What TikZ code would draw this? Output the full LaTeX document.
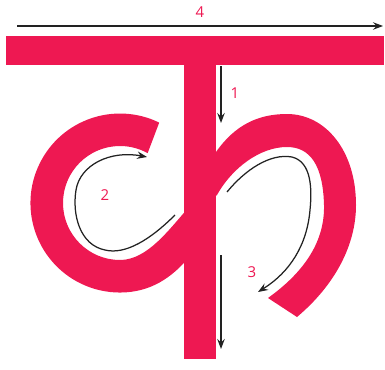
\documentclass[tikz,border=0pt]{standalone}
\usepackage{fontspec}
\setmainfont{Open Sans}
\usetikzlibrary{arrows.meta}
\definecolor{kpink}{HTML}{EE1852}
\definecolor{kline}{HTML}{222222}
\tikzset{
  glyph/.style={fill=kpink, draw=none},
  stroke/.style={draw=kline, line width=1.25pt, -{Stealth[length=10pt,width=7.5pt,inset=3.5pt]}},
  num/.style={text=kpink, font=\fontsize{15}{17}\selectfont, inner sep=0pt}
}
\begin{document}
\begin{tikzpicture}[x=1pt,y=-1pt]
\useasboundingbox (0,0) rectangle (385,369);
% head bar and stem
\fill[kpink] (6,36) rectangle (384,65);
\fill[kpink] (184,64) rectangle (216,359);
% left loop
\path[glyph] (159.2,122.6) arc[start angle=-64, end angle=-270, radius=89.5]
  .. controls (150,292.5) and (172,278) .. (190,256) -- (200,245) -- (200,200) -- (190,206)
  .. controls (170,228) and (148,260) .. (120,260)
  arc[start angle=90, end angle=299, radius=57] -- cycle;
% right hook
\path[glyph] (200,175) -- (216,152) .. controls (235,125) and (258,114) .. (287,114)
  .. controls (325,114) and (356,150) .. (356,205)
  .. controls (356,245) and (335,285) .. (297,317) -- (268,298)
  .. controls (300,275) and (325,245) .. (324,205)
  .. controls (323,165) and (310,147) .. (287,147)
  .. controls (260,147) and (232,168) .. (217,195) -- (200,210) -- cycle;
% stroke arrows
\coordinate (s4a) at (17,26);  \coordinate (s4b) at (383,26);
\coordinate (s1a) at (221,66); \coordinate (s1b) at (221,123);
\coordinate (s1c) at (221,255); \coordinate (s1d) at (221,349);
\coordinate (s2a) at (175,215); \coordinate (s2b) at (147,157);
\coordinate (s3a) at (227,192); \coordinate (s3b) at (258,292);
\draw[stroke] (s4a) -- (s4b);
\draw[stroke] (s1a) -- (s1b);
\draw[stroke] (s1c) -- (s1d);
\draw[stroke] (s2a) .. controls (150,240) and (125,255) .. (105,250)
  .. controls (80,245) and (72,215) .. (76,190)
  .. controls (80,165) and (110,150) .. (s2b);
\draw[stroke] (s3a) .. controls (245,170) and (270,153) .. (292,157)
  .. controls (312,162) and (312,190) .. (310,210)
  .. controls (307,245) and (290,272) .. (s3b);
% labels
\node[num] (n4) at (200,12) {4};
\node[num] (n1) at (235,93) {1};
\node[num] (n2) at (105,195) {2};
\node[num] (n3) at (252,272) {3};
\end{tikzpicture}
\end{document}
